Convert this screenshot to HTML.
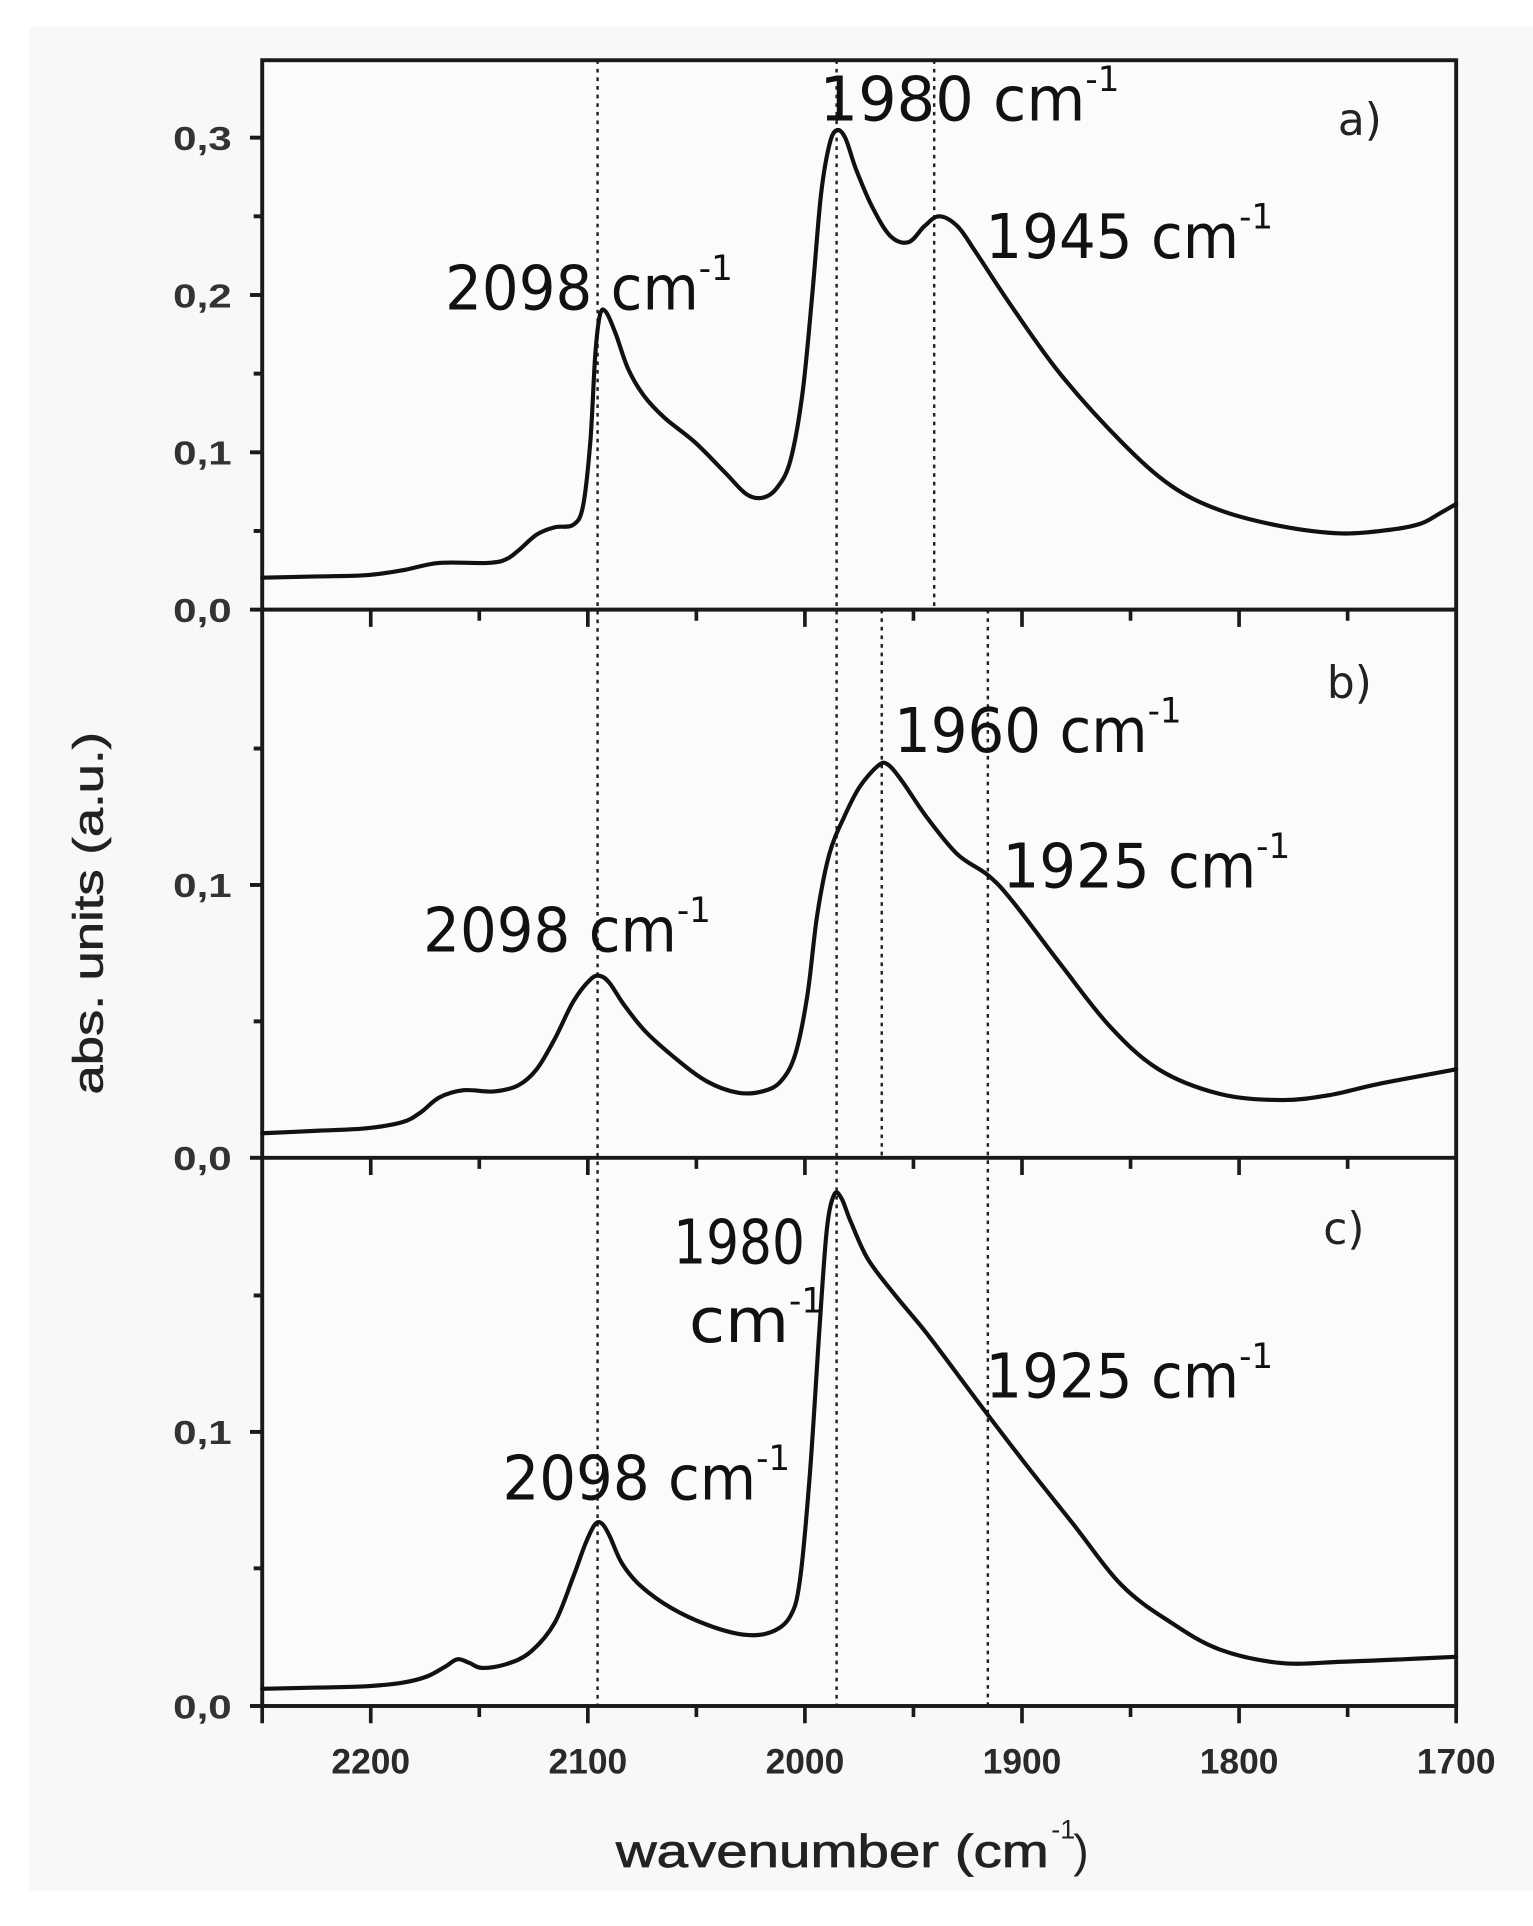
<!DOCTYPE html>
<html><head><meta charset="utf-8"><style>html,body{margin:0;padding:0;background:#fff;}svg{display:block;}</style></head>
<body>
<svg id="s" width="1533" height="1926" viewBox="0 0 1257 1567" preserveAspectRatio="none" xmlns="http://www.w3.org/2000/svg">
<rect x="0" y="0" width="1257" height="1567" fill="#fff"/>
<rect x="24" y="22" width="1233" height="1516" fill="#f8f8f8"/>
<rect x="215" y="49" width="979" height="1339" fill="#fbfbfb"/>
<g stroke="#222" stroke-width="2" stroke-dasharray="3,4" fill="none">
<line x1="490" y1="49" x2="490" y2="1388"/>
<line x1="686" y1="49" x2="686" y2="1388"/>
<line x1="766" y1="49" x2="766" y2="496"/>
<line x1="723" y1="496" x2="723" y2="942"/>
<line x1="810" y1="496" x2="810" y2="1388"/>
</g>
<g stroke="#1a1a1a" stroke-width="3.2" fill="none">
<rect x="215" y="49" width="979" height="1339"/>
<line x1="215" y1="496" x2="1194" y2="496"/>
<line x1="215" y1="942" x2="1194" y2="942"/>
<line x1="205" y1="112" x2="215" y2="112"/><line x1="205" y1="240" x2="215" y2="240"/><line x1="205" y1="368" x2="215" y2="368"/><line x1="205" y1="496" x2="215" y2="496"/>
<line x1="208" y1="176" x2="215" y2="176"/><line x1="208" y1="304" x2="215" y2="304"/><line x1="208" y1="432" x2="215" y2="432"/>
<line x1="205" y1="720" x2="215" y2="720"/><line x1="205" y1="942" x2="215" y2="942"/>
<line x1="208" y1="609" x2="215" y2="609"/><line x1="208" y1="831" x2="215" y2="831"/>
<line x1="205" y1="1165" x2="215" y2="1165"/><line x1="205" y1="1388" x2="215" y2="1388"/>
<line x1="208" y1="1054" x2="215" y2="1054"/><line x1="208" y1="1276" x2="215" y2="1276"/>
</g>
<g stroke="#1a1a1a" stroke-width="3">
<path d="M304 496v14M482 496v14M660 496v14M838 496v14M1016 496v14M393 496v9M571 496v9M749 496v9M927 496v9M1105 496v9
M304 942v14M482 942v14M660 942v14M838 942v14M1016 942v14M393 942v9M571 942v9M749 942v9M927 942v9M1105 942v9
M304 1388v14M482 1388v14M660 1388v14M838 1388v14M1016 1388v14M393 1388v9M571 1388v9M749 1388v9M927 1388v9M1105 1388v9M215 1388v14M1194 1388v14"/>
</g>
<g id="curves" stroke="#111" stroke-width="3.4" fill="none" stroke-linejoin="round" stroke-linecap="round">
<polyline points="215,470 260,469 300,468 330,464 360,458 400,458 415,455 425,448 440,435 455,429 470,427 478,412 484,360 488,290 492,256 497,254 505,272 515,300 528,322 545,340 570,360 595,385 612,402 625,405 637,397 648,375 658,320 666,240 673,160 680,118 686,106 693,112 702,138 715,168 730,192 745,197 758,184 770,176 785,184 800,205 830,250 870,305 920,360 960,395 1000,415 1050,428 1100,434 1140,431 1165,426 1180,418 1194,410"/>
<polyline points="215,922 260,920 300,918 330,913 345,905 360,893 380,887 405,888 425,883 440,870 455,845 470,815 484,797 492,794 500,800 512,818 530,840 555,862 580,880 605,889 625,888 640,880 652,858 662,810 670,745 680,695 692,665 705,640 720,623 728,622 740,636 760,665 785,695 810,712 830,733 870,785 910,835 950,870 1000,890 1050,895 1090,891 1130,882 1194,870"/>
<polyline points="215,1374 260,1373 300,1372 330,1369 350,1364 365,1356 375,1350 385,1353 395,1357 415,1354 435,1344 455,1320 470,1283 480,1256 488,1240 494,1240 500,1250 510,1272 525,1290 550,1308 580,1322 610,1330 632,1328 648,1315 656,1285 664,1200 672,1080 678,1000 684,972 690,975 698,995 712,1025 735,1055 760,1085 800,1138 840,1190 880,1240 920,1290 960,1320 1000,1342 1050,1353 1100,1352 1150,1350 1194,1348"/>
</g>
<g font-family="Liberation Sans, Arial, sans-serif" font-weight="bold" fill="#333" font-size="27" text-anchor="end">
<text x="190" y="122" textLength="48" lengthAdjust="spacingAndGlyphs">0,3</text><text x="190" y="250" textLength="48" lengthAdjust="spacingAndGlyphs">0,2</text><text x="190" y="378" textLength="48" lengthAdjust="spacingAndGlyphs">0,1</text><text x="190" y="506" textLength="48" lengthAdjust="spacingAndGlyphs">0,0</text>
<text x="190" y="730" textLength="48" lengthAdjust="spacingAndGlyphs">0,1</text><text x="190" y="952" textLength="48" lengthAdjust="spacingAndGlyphs">0,0</text>
<text x="190" y="1175" textLength="48" lengthAdjust="spacingAndGlyphs">0,1</text><text x="190" y="1398" textLength="48" lengthAdjust="spacingAndGlyphs">0,0</text>
</g>
<g font-family="Liberation Sans, Arial, sans-serif" font-weight="bold" fill="#2a2a2a" font-size="29" text-anchor="middle">
<text x="304" y="1443">2200</text><text x="482" y="1443">2100</text><text x="660" y="1443">2000</text><text x="838" y="1443">1900</text><text x="1016" y="1443">1800</text><text x="1194" y="1443">1700</text>
</g>
<text x="505" y="1519" font-family="Liberation Sans, Arial, sans-serif" font-size="38" fill="#222" stroke="#222" stroke-width="0.6" textLength="355" lengthAdjust="spacingAndGlyphs">wavenumber (cm</text>
<text x="862" y="1496" font-family="Liberation Sans, Arial, sans-serif" font-size="22" fill="#222">-1</text>
<text x="880" y="1519" font-family="Liberation Sans, Arial, sans-serif" font-size="38" fill="#222">)</text>
<text transform="translate(84,743) rotate(-90)" text-anchor="middle" font-family="Liberation Sans, Arial, sans-serif" font-size="34" fill="#222" stroke="#222" stroke-width="0.5" textLength="295" lengthAdjust="spacingAndGlyphs">abs. units (a.u.)</text>
<g font-family="DejaVu Sans, Verdana, sans-serif" font-size="50" fill="#111">
<text x="672" y="98" textLength="218" lengthAdjust="spacingAndGlyphs">1980 cm</text><text x="890" y="74" font-size="28">-1</text>
<text x="365" y="252" textLength="208" lengthAdjust="spacingAndGlyphs">2098 cm</text><text x="573" y="228" font-size="28">-1</text>
<text x="808" y="210" textLength="208" lengthAdjust="spacingAndGlyphs">1945 cm</text><text x="1016" y="186" font-size="28">-1</text>
<text x="733" y="612" textLength="208" lengthAdjust="spacingAndGlyphs">1960 cm</text><text x="941" y="588" font-size="28">-1</text>
<text x="822" y="722" textLength="208" lengthAdjust="spacingAndGlyphs">1925 cm</text><text x="1030" y="698" font-size="28">-1</text>
<text x="347" y="774" textLength="208" lengthAdjust="spacingAndGlyphs">2098 cm</text><text x="555" y="750" font-size="28">-1</text>
<text x="552" y="1028" textLength="108" lengthAdjust="spacingAndGlyphs">1980</text>
<text x="565" y="1092" textLength="82" lengthAdjust="spacingAndGlyphs">cm</text><text x="647" y="1068" font-size="28">-1</text>
<text x="808" y="1137" textLength="208" lengthAdjust="spacingAndGlyphs">1925 cm</text><text x="1016" y="1113" font-size="28">-1</text>
<text x="412" y="1220" textLength="208" lengthAdjust="spacingAndGlyphs">2098 cm</text><text x="620" y="1196" font-size="28">-1</text>
</g>
<g font-family="DejaVu Sans, Verdana, sans-serif" font-size="36" fill="#222">
<text x="1097" y="110">a)</text>
<text x="1088" y="568">b)</text>
<text x="1085" y="1012">c)</text>
</g>
</svg>
<script>
(function(){
var g=document.getElementById('curves');
var pls=g.querySelectorAll('polyline');
for(var k=0;k<pls.length;k++){
 var pl=pls[k];
 var p=pl.getAttribute('points').trim().split(/\s+/).map(function(s){var a=s.split(',');return [+a[0],+a[1]];});
 var d='M'+p[0][0]+' '+p[0][1];
 for(var i=0;i<p.length-1;i++){
  var p0=p[i>0?i-1:i],p1=p[i],p2=p[i+1],p3=p[i+2<p.length?i+2:i+1];
  var c1x=p1[0]+(p2[0]-p0[0])/6,c1y=p1[1]+(p2[1]-p0[1])/6;
  var c2x=p2[0]-(p3[0]-p1[0])/6,c2y=p2[1]-(p3[1]-p1[1])/6;
  d+=' C'+c1x.toFixed(1)+' '+c1y.toFixed(1)+' '+c2x.toFixed(1)+' '+c2y.toFixed(1)+' '+p2[0]+' '+p2[1];
 }
 var path=document.createElementNS('http://www.w3.org/2000/svg','path');
 path.setAttribute('d',d);
 g.replaceChild(path,pl);
}
})();
</script>
</body></html>
